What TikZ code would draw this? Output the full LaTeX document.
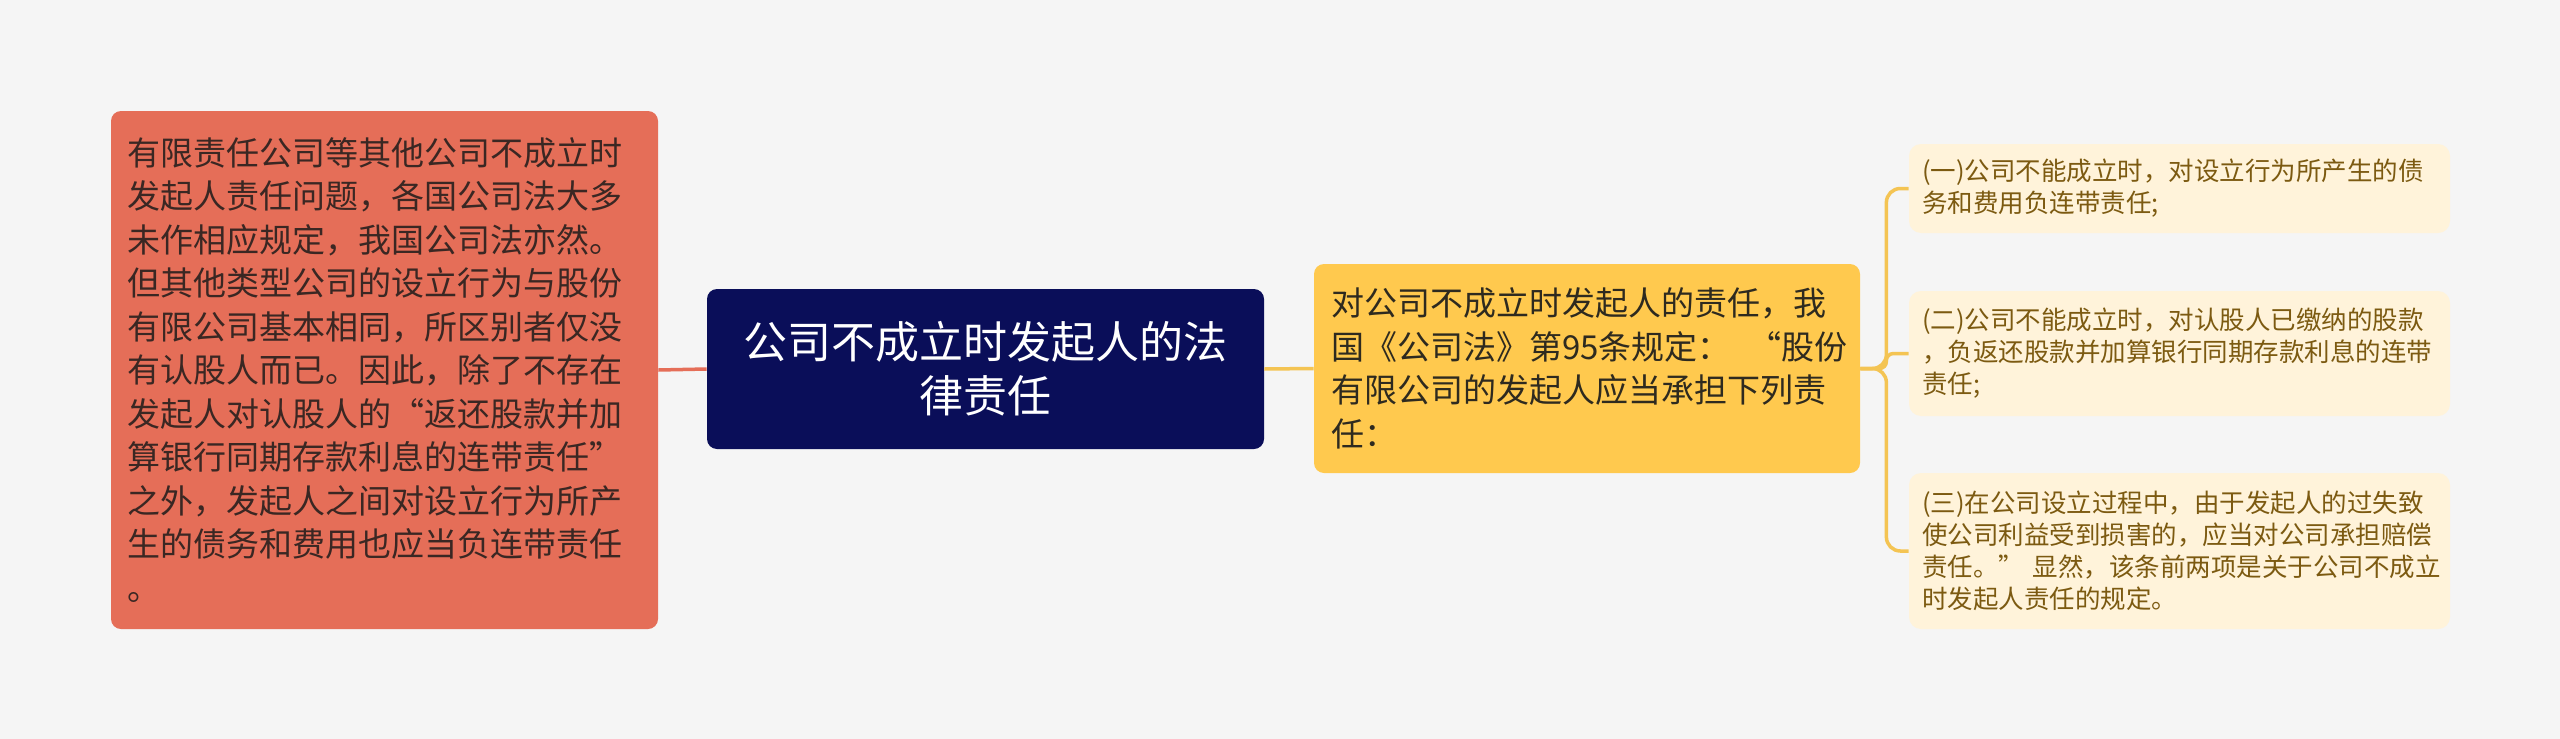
\documentclass[tikz,border=0pt]{standalone}
\usepackage{fontspec}
\setmainfont{Noto Sans CJK SC}

\definecolor{bgcol}{HTML}{F5F5F5}
\definecolor{redfill}{HTML}{E56E58}
\definecolor{redtext}{HTML}{3A2723}
\definecolor{navyfill}{HTML}{0A0E59}
\definecolor{yelfill}{HTML}{FFC94E}
\definecolor{yeltext}{HTML}{2E2A1F}
\definecolor{creamfill}{HTML}{FFF3DA}
\definecolor{creamtext}{HTML}{7C5A11}
\definecolor{yelline}{HTML}{F4C453}

\tikzset{every picture/.style={line width=0.75pt}}
\tikzset{
  redbox/.style={fill=redfill, rounded corners=10, inner xsep=16, inner ysep=0,
    text width=515, minimum height=518, align=left, text=redtext,
    font=\fontsize{33}{43.5}\selectfont},
  rootbox/.style={fill=navyfill, rounded corners=10, minimum width=557,
    minimum height=160, align=center, text=white,
    font=\fontsize{44}{54}\selectfont},
  yelbox/.style={fill=yelfill, rounded corners=10, inner xsep=17, inner ysep=0,
    text width=512, minimum height=209, align=left, text=yeltext,
    font=\fontsize{33}{43.5}\selectfont},
  leafbox/.style={fill=creamfill, rounded corners=12, inner xsep=13, inner ysep=0,
    text width=515, align=left, text=creamtext,
    font=\fontsize{25.5}{32}\selectfont},
  redlink/.style={draw=redfill, line width=3.5},
  yellink/.style={draw=yelline, line width=3.5},
}

\begin{document}
\begin{tikzpicture}[x=1pt,y=1pt,yscale=-1,xscale=1]
        \useasboundingbox (0,0) rectangle (2560,739);
        \fill[bgcol] (0,0) rectangle (2560,739);
        % main boxes
        \node[redbox] (other) at (384.5,370) {有限责任公司等其他公司不成立时\\发起人责任问题，各国公司法大多\\未作相应规定，我国公司法亦然。\\但其他类型公司的设立行为与股份\\有限公司基本相同，所区别者仅没\\有认股人而已。因此，除了不存在\\发起人对认股人的“返还股款并加\\算银行同期存款利息的连带责任”\\之外，发起人之间对设立行为所产\\生的债务和费用也应当负连带责任\\。};
        \node[rootbox] (root) at (985.5,369) {公司不成立时发起人的法\\律责任};
        \node[yelbox] (law) at (1587,368.5) {对公司不成立时发起人的责任，我\\\mbox{国《公司法》第95条规定：\hspace{18pt}“股份}\\有限公司的发起人应当承担下列责\\任：};
        % leaves
        \node[leafbox, minimum height=89] (itemA) at (2179.5,188.5) {(一)公司不能成立时，对设立行为所产生的债\\务和费用负连带责任;};
        \node[leafbox, minimum height=125] (itemB) at (2179.5,353.5) {(二)公司不能成立时，对认股人已缴纳的股款\\，负返还股款并加算银行同期存款利息的连带\\责任;};
        \node[leafbox, minimum height=156] (itemC) at (2179.5,551) {(三)在公司设立过程中，由于发起人的过失致\\使公司利益受到损害的，应当对公司承担赔偿\\责任。” 显然，该条前两项是关于公司不成立\\时发起人责任的规定。};
        % links
        \draw[redlink] (other.east) -- (root.west);
        \draw[yellink] (root.east) -- (law.west);
        \draw[yellink, rounded corners=14] (law.east) -- ++(26,0) |- (itemA.west);
        \draw[yellink, rounded corners=7] (law.east) -- ++(26,0) |- (itemB.west);
        \draw[yellink, rounded corners=14] (law.east) -- ++(26,0) |- (itemC.west);
\end{tikzpicture}
\end{document}
